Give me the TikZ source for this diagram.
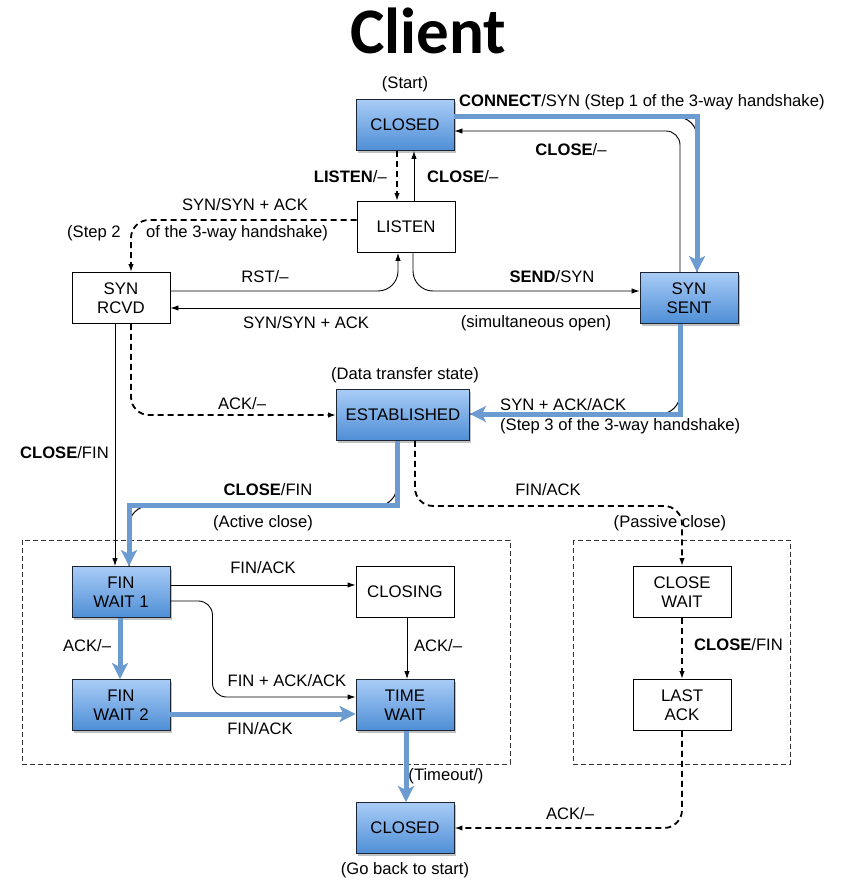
\documentclass[tikz,border=0pt]{standalone}
\usepackage{fontspec}
\setmainfont{Liberation Sans}
\newfontfamily\titlefont{Carlito}
\usepackage{tikz}
\usetikzlibrary{arrows.meta,positioning,calc,shadows}
\definecolor{flow}{HTML}{6B9BD1}
\definecolor{bluetop}{HTML}{A9CCF6}
\definecolor{bluebot}{HTML}{4E8ED6}
\definecolor{edge}{HTML}{1B2533}
\tikzset{
  >={Latex[length=8pt,width=5.5pt]},
  state/.style={draw=black,line width=0.9pt,minimum width=98pt,minimum height=51pt,inner sep=2pt,align=center,font=\fontsize{16.8}{19.5}\selectfont,fill=white},
  bstate/.style={state,draw=edge,top color=bluetop,bottom color=bluebot,drop shadow={shadow xshift=1.5pt,shadow yshift=-2.5pt,opacity=0.35,fill=black!70}},
  lab/.style={font=\fontsize{16.6}{19}\selectfont,inner sep=0pt},
  arr/.style={->,line width=0.9pt,rounded corners=14pt},
  under/.style={line width=1pt,rounded corners=20pt},
  darr/.style={->,line width=1.8pt,dash pattern=on 6pt off 4pt,rounded corners=18pt},
  barr/.style={-{Stealth[length=16pt,width=16pt,inset=4pt]},draw=flow,line width=5pt},
  grp/.style={draw=black!80,line width=0.8pt,dash pattern=on 5pt off 3pt},
}
\begin{document}
\begin{tikzpicture}[x=1pt,y=-1pt]
\useasboundingbox (0,0) rectangle (845,882);
\node[font=\titlefont\bfseries\fontsize{65}{72}\selectfont] (title) at (428,31) {Client};
\draw[grp] (22,540) rectangle (510,764);
\draw[grp] (573,540) rectangle (790,764);
\node[bstate] (closed) at (405,125) {CLOSED};
\node[state] (listen) at (406,227) {LISTEN};
\node[state] (synrcvd) at (121,298) {SYN\\RCVD};
\node[bstate] (synsent) at (689,298) {SYN\\SENT};
\node[bstate,minimum width=133pt] (established) at (403,415) {ESTABLISHED};
\node[bstate] (finwait1) at (121,592) {FIN\\WAIT 1};
\node[state] (closing) at (405,592) {CLOSING};
\node[bstate] (finwait2) at (121,705) {FIN\\WAIT 2};
\node[bstate] (timewait) at (405,705) {TIME\\WAIT};
\node[state] (closewait) at (682,592) {CLOSE\\WAIT};
\node[state] (lastack) at (682,705) {LAST\\ACK};
\node[bstate] (closedend) at (405,828) {CLOSED};

\draw[under] ([yshift=8pt]closed.east) -| ([xshift=8pt]synsent.north);
\draw[barr] ([yshift=8pt]closed.east) -| ([xshift=8pt]synsent.north);
\draw[arr] ([xshift=-9pt]synsent.north) |- ([yshift=-6pt]closed.east);
\draw[darr] ([xshift=-8pt]closed.south) -- ([xshift=-8pt]closed.south |- listen.north);
\draw[arr] ([xshift=8pt]listen.north) -- ([xshift=8pt]listen.north |- closed.south);
\draw[darr] ([yshift=7pt]listen.west) -| ([xshift=10pt]synrcvd.north);
\draw[arr,rounded corners=20pt] ([yshift=7pt]synrcvd.east) -| ([xshift=-8pt]listen.south);
\draw[arr,rounded corners=20pt] ([xshift=7pt]listen.south) |- ([yshift=7pt]synsent.west);
\draw[arr] ([yshift=-10pt]synsent.west) -- ([yshift=-10pt]synrcvd.east);
\draw[darr] ([xshift=10pt]synrcvd.south) |- (established.west);
\draw[arr] ([xshift=-6pt]synrcvd.south) -- ([xshift=-6pt]synrcvd.south |- finwait1.north);
\draw[under] ([xshift=-9pt]synsent.south) |- ([yshift=1pt]established.east);
\draw[barr] ([xshift=-9pt]synsent.south) |- ([yshift=1pt]established.east);
\draw[under] ([xshift=-6pt]established.south) -- ++(0,65) -| ([xshift=8pt]finwait1.north);
\draw[barr] ([xshift=-6pt]established.south) -- ++(0,65) -| ([xshift=8pt]finwait1.north);
\draw[darr] ([xshift=12pt]established.south) -- ++(0,65) -| (closewait.north);
\draw[arr] ([yshift=7pt]finwait1.east) -- ([yshift=7pt]finwait1.east -| closing.west);
\draw[arr] ([yshift=-9pt]finwait1.east) -- ++(42,0) |- ([yshift=8pt]timewait.west);
\draw[arr] ([xshift=2pt]closing.south) -- ([xshift=2pt]timewait.north);
\draw[barr] ([xshift=-1pt]finwait1.south) -- ([xshift=-1pt]finwait2.north);
\draw[barr] ([yshift=-9pt]finwait2.east) -- ([yshift=-9pt]timewait.west);
\draw[barr] ([xshift=1pt]timewait.south) -- ([xshift=1pt]closedend.north);
\draw[darr] (closewait) -- (lastack);
\draw[darr] (lastack.south) |- (closedend.east);

\node[lab] (lstart) at (405,84) {(Start)};
\node[lab,anchor=west] (lconnect) at (459,102) {\textbf{CONNECT}/SYN (Step 1 of the 3-way handshake)};
\node[lab] (lclose1) at (571,150) {\textbf{CLOSE}/--};
\node[lab,anchor=east] (llisten) at (387,177) {\textbf{LISTEN}/--};
\node[lab,anchor=west] (lclose2) at (427,177) {\textbf{CLOSE}/--};
\node[lab] (lsynack1) at (245,205) {SYN/SYN + ACK};
\node[lab,anchor=west] (lstep2a) at (67,233) {(Step 2};
\node[lab,anchor=west] (lstep2b) at (146,233) {of the 3-way handshake)};
\node[lab] (lrst) at (265,277) {RST/--};
\node[lab] (lsend) at (552,277) {\textbf{SEND}/SYN};
\node[lab] (lsynack2) at (306,323) {SYN/SYN + ACK};
\node[lab] (lsimul) at (536,323) {(simultaneous open)};
\node[lab] (ldata) at (405,375) {(Data transfer state)};
\node[lab] (lack1) at (242,404) {ACK/--};
\node[lab,anchor=west] (lsynack3) at (500,405) {SYN + ACK/ACK};
\node[lab,anchor=west] (lstep3) at (500,426) {(Step 3 of the 3-way handshake)};
\node[lab,anchor=west] (lclosefin1) at (20,453) {\textbf{CLOSE}/FIN};
\node[lab] (lclosefin2) at (268,490) {\textbf{CLOSE}/FIN};
\node[lab] (lactive) at (263,523) {(Active close)};
\node[lab] (lfinack1) at (548,490) {FIN/ACK};
\node[lab] (lpassive) at (670,523) {(Passive close)};
\node[lab] (lfinack2) at (263,568) {FIN/ACK};
\node[lab] (lack2) at (87,646) {ACK/--};
\node[lab] (lack3) at (438,646) {ACK/--};
\node[lab] (lfinackack) at (287,681) {FIN + ACK/ACK};
\node[lab] (lfinack3) at (260,729) {FIN/ACK};
\node[lab,anchor=west] (lclosefin3) at (694,645) {\textbf{CLOSE}/FIN};
\node[lab] (ltimeout) at (446,776) {(Timeout/)};
\node[lab] (lack4) at (570,814) {ACK/--};
\node[lab] (lback) at (405,870) {(Go back to start)};
\end{tikzpicture}
\end{document}
